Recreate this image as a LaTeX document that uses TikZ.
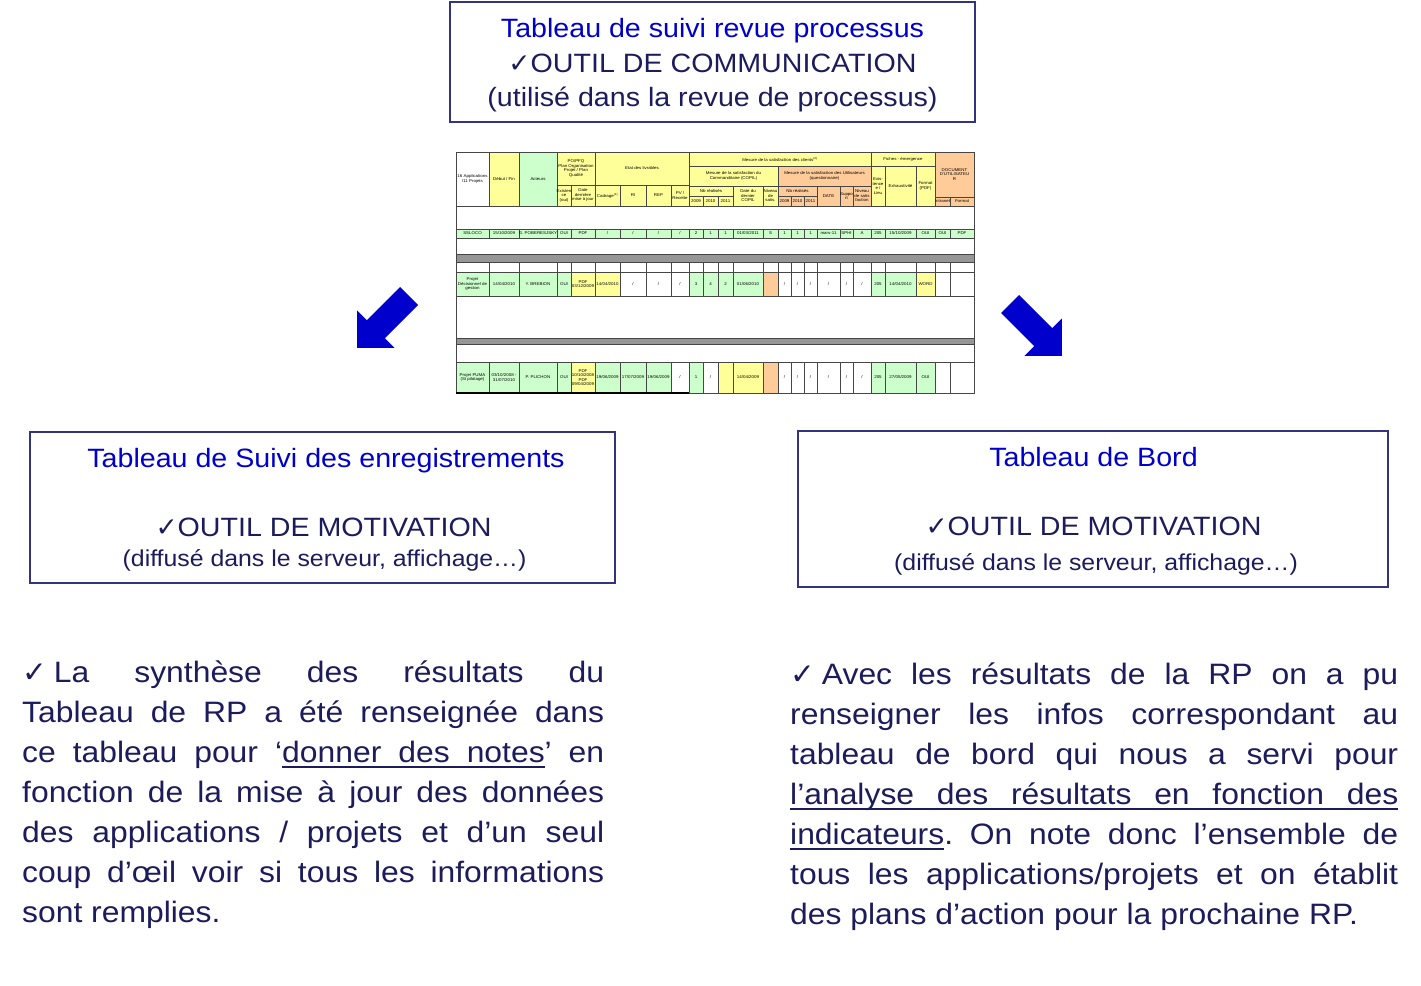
\documentclass[tikz,border=0pt]{standalone}
\usepackage{fontspec}
\setmainfont{Liberation Sans}[FakeStretch=1.08]
\newfontfamily\checkfont{DejaVu Sans}
\frenchspacing

\definecolor{titrebleu}{RGB}{0,0,204}
\definecolor{texteencre}{RGB}{28,28,92}
\definecolor{cadre}{RGB}{51,51,128}
\definecolor{flechebleu}{RGB}{0,0,204}
\definecolor{cjaune}{RGB}{255,255,153}
\definecolor{cvert}{RGB}{204,255,204}
\definecolor{corange}{RGB}{255,204,153}
\definecolor{bargris}{RGB}{150,150,150}
\definecolor{tabtrait}{RGB}{70,70,70}

\newcommand{\coche}{{\checkfont ✓}}
% soulignement qui suit les espaces justifies
\newcommand{\souligne}[1]{\setbox0\hbox{#1}\rlap{\vrule height -4pt depth 5.7pt width \wd0}\box0}
\newcommand{\soulespace}{\leaders\hrule height -4pt depth 5.7pt\hskip\fontdimen2\font plus\fontdimen3\font minus\fontdimen4\font}
\def\colx{{456,489,519,557,571,595,620,646,671,689,703,718,733,763,778,791,804,817,840,853,871,885,916,935,950,974}}

\newcommand{\tcell}[7]{%
  \node[tabcase, fill=#6, minimum width={#4-#2}, minimum height={#5-#3}] (#1) at ({(#2+#4)/2},{(#3+#5)/2}) {#7};}
\newcommand{\trow}[4]{%
  \foreach \fc/\tx [count=\i from 0] in {#4}{%
    \pgfmathsetmacro\xa{\colx[\i]}%
    \pgfmathsetmacro\xb{\colx[\i+1]}%
    \tcell{#1-\i}{\xa}{#2}{\xb}{#3}{\fc}{\tx}}}

\tikzset{
  outilcadre/.style={draw=cadre, line width=2pt, inner sep=0pt},
  titrebox/.style={anchor=base, inner sep=0pt, text=titrebleu, font=\fontsize{26.5}{30}\selectfont},
  outiltexte/.style={anchor=base, inner sep=0pt, text=texteencre, font=\fontsize{26.5}{30}\selectfont},
  usagetexte/.style={anchor=base, inner sep=0pt, text=texteencre, font=\fontsize{23}{27}\selectfont},
  synthese/.style={anchor=base west, inner sep=0pt, text=texteencre, align=justify, font=\fontsize{29.5}{40}\selectfont},
  tabcase/.style={draw=tabtrait, line width=0.35pt, inner sep=0pt, outer sep=0pt, align=center, font=\fontsize{4.1}{4.5}\selectfont},
  grosfleche/.style={fill=flechebleu},
}

\begin{document}
\begin{tikzpicture}[x=1pt,y=-1pt]
\useasboundingbox (0,0) rectangle (1421,985);
\fill[white] (0,0) rectangle (1421,985);

% cadre du haut
\node[outilcadre, minimum width=525pt, minimum height=120pt] (revue) at (712.5,62) {};
\node[titrebox] (revuetitre) at (712.5,37.5) {Tableau de suivi revue processus};
\node[outiltexte] (revueoutil) at (712.5,72.5) {\coche OUTIL DE COMMUNICATION};
\node[outiltexte] (revueusage) at (712.5,106) {(utilisé dans la revue de processus)};

% tableau : en-tete
\tcell{hApp}{456}{152}{489}{206}{white}{16 Applications\\/11 Projets}
\tcell{hDebut}{489}{152}{519}{206}{cjaune}{Début / Fin}
\tcell{hActeurs}{519}{152}{557}{206}{cvert}{Acteurs}
\tcell{hPO}{557}{152}{595}{185}{cjaune}{PO/PFQ\\Plan Organisation\\Projet / Plan\\Qualité}
\tcell{hExist}{557}{185}{571}{206}{cjaune}{Existen\\ce\\(oui)}
\tcell{hDateMaj}{571}{185}{595}{206}{cjaune}{Date\\dernière\\mise à jour}
\tcell{hEtat}{595}{152}{689}{185}{cjaune}{Etat des livrables}
\tcell{hCadrage}{595}{185}{620}{206}{cjaune}{Cadrage\textsuperscript{(1)}}
\tcell{hRI}{620}{185}{646}{206}{cjaune}{RI}
\tcell{hREP}{646}{185}{671}{206}{cjaune}{REP}
\tcell{hPV}{671}{185}{689}{206}{cjaune}{PV /\\Recette}
\tcell{hClients}{689}{152}{871}{166}{cjaune}{Mesure de la satisfaction des clients\textsuperscript{(2)}}
\tcell{hCopil}{689}{166}{778}{186}{cjaune}{Mesure de la satisfaction du\\Commanditaire (COPIL)}
\tcell{hNbCopil}{689}{186}{733}{196}{cjaune}{Nb réalisés}
\tcell{hDateCopil}{733}{186}{763}{206}{cjaune}{Date du\\dernier\\COPIL}
\tcell{hNivCopil}{763}{186}{778}{206}{cjaune}{Niveau\\de\\satis.}
\tcell{hUtil}{778}{166}{871}{186}{corange}{Mesure de la satisfaction des Utilisateurs\\(questionnaire)}
\tcell{hNbUtil}{778}{186}{817}{196}{corange}{Nb réalisés}
\tcell{hDate}{817}{186}{840}{206}{corange}{DATE}
\tcell{hSupport}{840}{186}{853}{206}{corange}{Suppo\\rt}
\tcell{hNivUtil}{853}{186}{871}{206}{corange}{Niveau\\de satis\\faction}
\tcell{hFiches}{871}{152}{935}{166}{cjaune}{Fiches - émergence}
\tcell{hLieu}{871}{166}{885}{206}{cjaune}{Exis-\\tence\\e /\\Lieu}
\tcell{hExhaust}{885}{166}{916}{206}{cjaune}{Exhaustivité}
\tcell{hFormat}{916}{166}{935}{206}{cjaune}{Format\\(PDF)}
\tcell{hDoc}{935}{152}{974}{197}{corange}{DOCUMENT\\D'UTILISATEU\\R}
\tcell{hIntranet}{935}{197}{950}{206}{corange}{Intranet}
\tcell{hDocFormat}{950}{197}{974}{206}{corange}{Format}
\foreach \an [count=\k from 9] in {2009,2010,2011}{%
  \pgfmathsetmacro\xa{\colx[\k]}\pgfmathsetmacro\xb{\colx[\k+1]}%
  \tcell{anCopil-\an}{\xa}{196}{\xb}{206}{cjaune}{\an}}
\foreach \an [count=\k from 14] in {2009,2010,2011}{%
  \pgfmathsetmacro\xa{\colx[\k]}\pgfmathsetmacro\xb{\colx[\k+1]}%
  \tcell{anUtil-\an}{\xa}{196}{\xb}{206}{corange}{\an}}

% tableau : lignes
\trow{ssloco}{229}{238}{cvert/SSLOCO, cvert/{15/10/2009}, cvert/{G. POBERESJSKY}, cvert/OUI, cvert/PDF, cvert/{/}, cvert/{/}, cvert/{/}, cvert/{/}, cvert/2, cvert/1, cvert/1, cvert/{01/03/2011}, cvert/S, cvert/1, cvert/1, cvert/1, cvert/mars-11, cvert/SPHI, cvert/A, cvert/205, cvert/{15/10/2009}, cvert/OUI, cvert/OUI, cvert/PDF}
\fill[bargris, draw=tabtrait, line width=0.35pt] (456,254) rectangle (974,262);
\foreach \i in {0,...,24}{%
  \pgfmathsetmacro\xa{\colx[\i]}\pgfmathsetmacro\xb{\colx[\i+1]}%
  \tcell{vide-\i}{\xa}{262}{\xb}{272}{white}{}}
\trow{decision}{272}{296}{cvert/{Projet\\Décisionnel de\\gestion}, cvert/{14/04/2010}, cvert/{Y. BREBION}, cvert/OUI, cjaune/{PDF\\03/12/2009}, cjaune/{14/04/2010}, white/{/}, white/{/}, white/{/}, cvert/3, cvert/4, cvert/2, cvert/{01/06/2010}, corange/{}, white/{/}, white/{/}, white/{/}, white/{/}, white/{/}, white/{/}, cvert/205, cvert/{14/04/2010}, cjaune/WORD, white/{}, white/{}}
\fill[bargris, draw=tabtrait, line width=0.35pt] (456,338) rectangle (974,344);
\trow{puma}{362}{393}{cvert/{Projet PUMA\\(SI pilotage)}, cvert/{03/10/2008 -\\31/07/2010}, cvert/{P. PLICHON}, cvert/OUI, cjaune/{PDF\\10/10/2008\\PDF\\09/04/2009}, cvert/{19/06/2009}, cvert/{17/07/2009}, cvert/{19/06/2009}, white/{/}, cvert/1, white/{/}, cjaune/{}, cjaune/{14/04/2009}, corange/{}, white/{/}, white/{/}, white/{/}, white/{/}, white/{/}, white/{/}, cvert/205, cvert/{27/05/2009}, cvert/OUI, white/{}, white/{}}
\draw[tabtrait, line width=0.35pt] (hApp.north west) rectangle (puma-24.south east);
\draw[line width=1.2pt] (puma-0.south west) -- (puma-8.south east);

% fleches
\fill[grosfleche] (400,287) -- (418,305) -- (384.8,338.2) -- (394.5,347.9) -- (357.1,347.9) -- (357.1,310.5) -- (366.8,320.2) -- cycle;
\fill[grosfleche] (1019,295) -- (1001,313) -- (1034.2,346.2) -- (1024.5,355.9) -- (1061.9,355.9) -- (1061.9,318.5) -- (1052.2,328.2) -- cycle;

% cadres du milieu
\node[outilcadre, minimum width=585pt, minimum height=151pt] (enreg) at (322.5,507.5) {};
\node[titrebox] (enregtitre) at (326,467) {Tableau de Suivi des enregistrements};
\node[outiltexte] (enregoutil) at (323.5,536.5) {\coche OUTIL DE MOTIVATION};
\node[usagetexte] (enregusage) at (324.5,566) {(diffusé dans le serveur, affichage…)};

\node[outilcadre, minimum width=590pt, minimum height=156pt] (bord) at (1093,509) {};
\node[titrebox] (bordtitre) at (1093.5,466.5) {Tableau de Bord};
\node[outiltexte] (bordoutil) at (1093.5,535.5) {\coche OUTIL DE MOTIVATION};
\node[usagetexte] (bordusage) at (1096,570) {(diffusé dans le serveur, affichage…)};

% textes du bas
\node[synthese, text width=582pt] (notes) at (22,682) {\coche\kern7pt La synthèse des résultats du\linebreak
Tableau de RP a été renseignée dans\linebreak
ce tableau pour ‘\souligne{donner}\soulespace\souligne{des}\soulespace\souligne{notes}’ en\linebreak
fonction de la mise à jour des données\linebreak
des applications / projets et d’un seul\linebreak
coup d’œil voir si tous les informations\linebreak
sont remplies.};
\node[synthese, text width=608pt] (analyse) at (790,684) {\coche\kern7pt Avec les résultats de la RP on a pu\linebreak
renseigner les infos correspondant au\linebreak
tableau de bord qui nous a servi pour\linebreak
\souligne{l’analyse}\soulespace\souligne{des}\soulespace\souligne{résultats}\soulespace\souligne{en}\soulespace\souligne{fonction}\soulespace\souligne{des}\linebreak
\souligne{indicateurs}. On note donc l’ensemble de\linebreak
tous les applications/projets et on établit\linebreak
des plans d’action pour la prochaine RP.};
\end{tikzpicture}
\end{document}
